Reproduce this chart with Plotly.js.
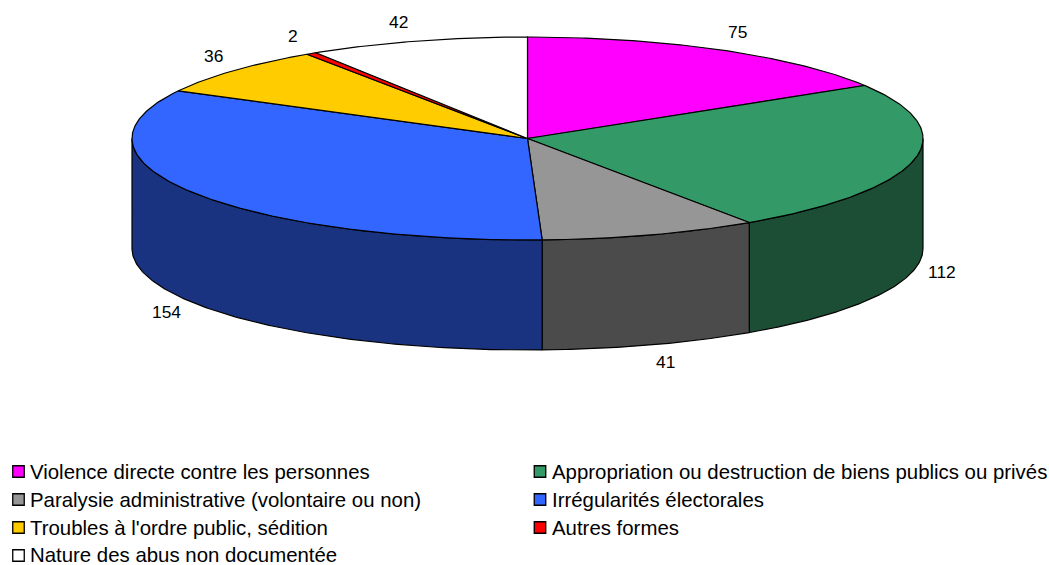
<!DOCTYPE html>
<html><head><meta charset="utf-8">
<script src="https://cdn.plot.ly/plotly-3.0.1.min.js"></script>
<style>html,body{margin:0;padding:0;background:#fff}#c{width:1049px;height:565px}</style>
</head><body><div id="c"></div>
<script>
const categories = ["Violence directe contre les personnes","Appropriation ou destruction de biens publics ou privés","Paralysie administrative (volontaire ou non)","Irrégularités électorales","Troubles à l'ordre public, sédition","Autres formes","Nature des abus non documentée"];
const values = [75,112,41,154,36,2,42];
const topColors = ["#FF00FF","#339966","#969696","#3366FF","#FFCC00","#FF0000","#FFFFFF"];
const sideColors = ["#800080","#1C4D35","#4B4B4B","#1A3380","#806600","#800000","#808080"];
const labelX = [737,942,665,166,213,293,398];
const labelY = [32,272,362,312,56,36,22];
const legendCol = [18.5,540,18.5,540,18.5,540,18.5];
const legendRow = [471.5,471.5,499.5,499.5,527.5,527.5,554.5];
const swatchRow = [471.5,471.5,499.5,499.5,527.5,527.5,555.5];

const cx=527.5, cy=138.5, rx=395.5, ry=101.5, depth=110;
const total=values.reduce((a,b)=>a+b,0);
const px=t=>cx+rx*Math.sin(t), py=t=>cy-ry*Math.cos(t);
function arc(a,b){const n=Math.max(2,Math.ceil(Math.abs(b-a)/0.01));const o=[];for(let i=0;i<=n;i++)o.push(a+(b-a)*i/n);return o;}
const traces=[], annotations=[];
let acc=0;
const warp=t=>Math.min(t*1.0012,2*Math.PI);
const spans=values.map(v=>{const a=warp(acc/total*2*Math.PI);acc+=v;return [a,warp(acc/total*2*Math.PI)];});
const lineStyle={color:"#000",width:1.2};
spans.forEach(([a,b],i)=>{
  const s=Math.max(a,Math.PI/2), e=Math.min(b,3*Math.PI/2);
  if(e<=s)return;
  const ts=arc(s,e);
  traces.push({type:"scatter",mode:"lines",fill:"toself",fillcolor:sideColors[i],line:lineStyle,hoverinfo:"skip",showlegend:false,
    x:ts.map(px).concat(ts.slice().reverse().map(px),[px(s)]),
    y:ts.map(t=>py(t)+depth).concat(ts.slice().reverse().map(py),[py(s)+depth])});
});
spans.forEach(([a,b],i)=>{
  const ts=arc(a,b);
  traces.push({type:"scatter",mode:"lines",fill:"toself",fillcolor:topColors[i],line:lineStyle,name:categories[i],text:String(values[i]),hoverinfo:"name+text",showlegend:false,
    x:[cx].concat(ts.map(px),[cx]),y:[cy].concat(ts.map(py),[cy])});
});
values.forEach((v,i)=>annotations.push({x:labelX[i],y:labelY[i],text:String(v),showarrow:false,xanchor:"center",yanchor:"middle",font:{family:"Liberation Sans, Arial, sans-serif",size:17.4,color:"#000"}}));
traces.push({type:"scatter",mode:"markers",x:legendCol,y:swatchRow,hoverinfo:"skip",showlegend:false,cliponaxis:false,
  marker:{symbol:"square",size:11.5,color:topColors,line:{color:"#000",width:1.3}}});
categories.forEach((c,i)=>annotations.push({x:legendCol[i]+(i%2?11:10.5),y:legendRow[i],text:c,showarrow:false,xanchor:"left",yanchor:"middle",borderpad:0,font:{family:"Liberation Sans, Arial, sans-serif",size:20.4,color:"#000"}}));

Plotly.newPlot("c",traces,{
  width:1049,height:565,margin:{l:0,r:0,t:0,b:0},paper_bgcolor:"#fff",plot_bgcolor:"#fff",showlegend:false,
  xaxis:{range:[0,1049],visible:false,fixedrange:true},
  yaxis:{range:[565,0],visible:false,fixedrange:true},
  annotations
},{displayModeBar:false,staticPlot:true});
</script></body></html>
